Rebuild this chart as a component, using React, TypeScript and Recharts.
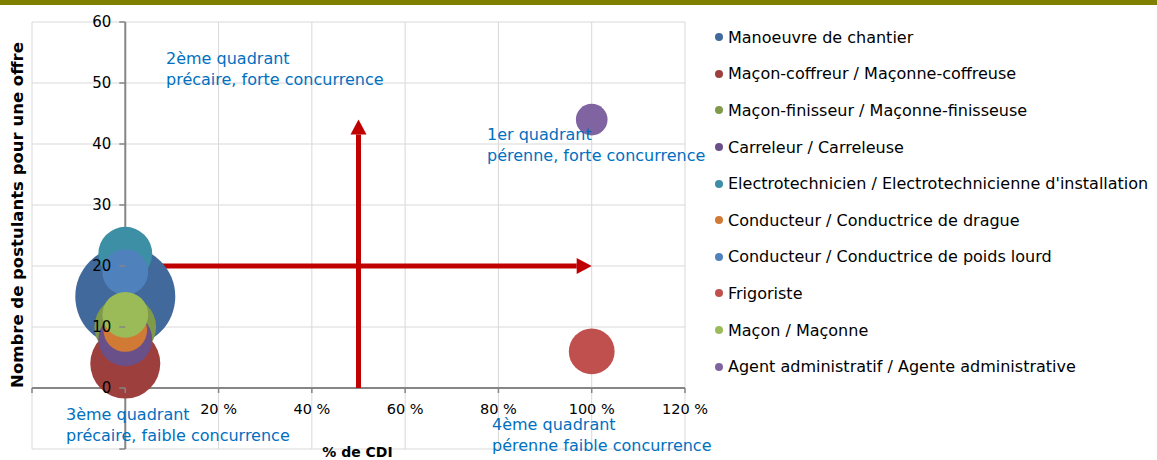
import {
  ScatterChart,
  Scatter,
  XAxis,
  YAxis,
  ZAxis,
  CartesianGrid,
  ReferenceLine,
  Legend,
} from "recharts";

const jobs = [
  "Manoeuvre de chantier",
  "Maçon-coffreur / Maçonne-coffreuse",
  "Maçon-finisseur / Maçonne-finisseuse",
  "Carreleur / Carreleuse",
  "Electrotechnicien / Electrotechnicienne d'installation",
  "Conducteur / Conductrice de drague",
  "Conducteur / Conductrice de poids lourd",
  "Frigoriste",
  "Maçon / Maçonne",
  "Agent administratif / Agente administrative",
];
const cdiPct = [0, 0, 0, 0, 0, 0, 0, 100, 0, 100];
const applicants = [15, 4, 10, 8, 22, 9.5, 19, 6, 12, 44];
const offers = [100, 49, 38, 29, 29, 19, 21, 21, 21, 10];
const colors = [
  "#41699b",
  "#9c3f3d",
  "#7f9a48",
  "#6a5089",
  "#3d8fa5",
  "#d07a36",
  "#4f81bd",
  "#c0504d",
  "#9bbb59",
  "#8064a2",
];

const xTicks = [-20, 0, 20, 40, 60, 80, 100, 120];
const yTicks = [-10, 0, 10, 20, 30, 40, 50, 60];

const quadrants = [
  { lines: ["2ème quadrant", "précaire, forte concurrence"], left: 166, top: 48 },
  { lines: ["1er quadrant", "pérenne, forte concurrence"], left: 487, top: 124 },
  { lines: ["3ème quadrant", "précaire, faible concurrence"], left: 66, top: 404 },
  { lines: ["4ème quadrant", "pérenne faible concurrence"], left: 492, top: 414 },
];

const W = 1157;
const H = 460;
// axes take 1px each (a 0px axis is not drawn)
const M = { top: 22, right: 472, bottom: 10, left: 31 };
const PW = W - M.left - 1 - M.right;
const PH = H - M.top - M.bottom - 1;
const X_MIN = -20, X_MAX = 120, Y_MIN = -10, Y_MAX = 60;
// distance from plot edge to the zero lines (axes cross at 0)
const X0_OFF = (PW * (0 - X_MIN)) / (X_MAX - X_MIN);
const Y0_OFF = (PH * (0 - Y_MIN)) / (Y_MAX - Y_MIN);

const FONT = "'DejaVu Sans', sans-serif";
const AXIS = "#868686";
const RED = "#c00000";

const XTick = ({ x, y, payload }: any) => {
  const ay = y - Y0_OFF;
  const v = payload.value;
  return (
    <g>
      <line x1={x} y1={ay} x2={x} y2={ay + 5} stroke={AXIS} strokeWidth={1.5} />
      {v > 0 && (
        <text x={x} y={ay + 26} textAnchor="middle" fontSize={14.5} fontFamily={FONT} fill="#000">
          {`${v} %`}
        </text>
      )}
    </g>
  );
};

// tick marks (drawn under the bubbles)
const YTickMark = ({ x, y }: any) => {
  const ax = x + X0_OFF;
  return <line x1={ax - 6} y1={y} x2={ax} y2={y} stroke={AXIS} strokeWidth={1.5} />;
};

// tick labels (drawn on top of the bubbles, as in Excel)
const YTickLabel = ({ x, y, payload }: any) => {
  const ax = x + X0_OFF;
  const v = payload.value;
  if (v < 0) return <g />;
  return (
    <text x={ax - 14} y={y + 5} textAnchor="end" fontSize={15} fontFamily={FONT} fill="#000">
      {v}
    </text>
  );
};

const Arrow = (p: any) => {
  const { x1, y1, x2, y2 } = p;
  const dx = x2 - x1;
  const dy = y2 - y1;
  const len = Math.hypot(dx, dy) || 1;
  const ux = dx / len;
  const uy = dy / len;
  const hl = 15;
  const hw = 8;
  const bx = x2 - ux * hl;
  const by = y2 - uy * hl;
  return (
    <g>
      <line x1={x1} y1={y1} x2={bx} y2={by} stroke={RED} strokeWidth={5} />
      <polygon
        points={`${x2},${y2} ${bx - uy * hw},${by + ux * hw} ${bx + uy * hw},${by - ux * hw}`}
        fill={RED}
      />
    </g>
  );
};

const renderLegend = (props: any) => (
  <div style={{ fontFamily: FONT, fontSize: 16, color: "#000" }}>
    {(props.payload || []).map((e: any) => (
      <div key={e.value} style={{ height: 36.6, display: "flex", alignItems: "center", whiteSpace: "nowrap" }}>
        <span
          style={{
            display: "inline-block",
            width: 8,
            height: 8,
            borderRadius: 4,
            background: e.color,
            marginRight: 5,
          }}
        />
        {e.value}
      </div>
    ))}
  </div>
);

const yAxisProps = {
  type: "number" as const,
  dataKey: "y",
  domain: [Y_MIN, Y_MAX],
  ticks: yTicks,
  width: 1,
  axisLine: false,
  tickLine: false,
  tickSize: 0,
  tickMargin: 0,
  interval: 0 as const,
  allowDataOverflow: true,
};

export default function App() {
  const series = jobs.map((name, i) => ({
    name,
    color: colors[i],
    data: [{ x: cdiPct[i], y: applicants[i], z: offers[i] }],
  }));

  return (
    <div style={{ position: "absolute", left: 0, top: 0, width: W, height: H, background: "#fff", overflow: "hidden" }}>
      <ScatterChart width={W} height={H} margin={M}>
        <CartesianGrid stroke="#d9d9d9" strokeWidth={1} />
        <XAxis
          type="number"
          dataKey="x"
          domain={[X_MIN, X_MAX]}
          ticks={xTicks}
          height={1}
          axisLine={false}
          tickLine={false}
          tickSize={0}
          tickMargin={0}
          tick={<XTick />}
          interval={0}
          allowDataOverflow
        />
        <YAxis {...yAxisProps} tick={<YTickMark />} />
        <ZAxis type="number" dataKey="z" domain={[0, 100]} range={[0, Math.PI * 50 * 50]} />
        <ReferenceLine x={0} stroke={AXIS} strokeWidth={2} />
        <ReferenceLine y={0} stroke={AXIS} strokeWidth={2} />
        <ReferenceLine segment={[{ x: 0, y: 20 }, { x: 100, y: 20 }]} shape={Arrow} />
        <ReferenceLine segment={[{ x: 50, y: 0 }, { x: 50, y: 44 }]} shape={Arrow} />
        {series.map((s) => (
          <Scatter key={s.name} name={s.name} data={s.data} fill={s.color} isAnimationActive={false} />
        ))}
        <Legend
          layout="vertical"
          align="center"
          verticalAlign="middle"
          itemSorter={(item: any) => jobs.indexOf(item.value)}
          content={renderLegend}
          wrapperStyle={{ left: 715, top: 19, width: 442 }}
        />
      </ScatterChart>
      {/* same frame again, only for the y tick labels, so they sit above the bubbles */}
      <div style={{ position: "absolute", left: 0, top: 0, pointerEvents: "none" }}>
        <ScatterChart width={W} height={H} margin={M}>
          <XAxis
            type="number"
            dataKey="x"
            domain={[X_MIN, X_MAX]}
            height={1}
            axisLine={false}
            tickLine={false}
            tick={false}
            allowDataOverflow
          />
          <YAxis {...yAxisProps} tick={<YTickLabel />} />
          <Scatter data={series[0].data} fill="none" legendType="none" isAnimationActive={false} />
        </ScatterChart>
      </div>
      <div style={{ position: "absolute", left: 0, top: 0, width: W, height: 5, background: "#7f7f00" }} />
      {quadrants.map((q) => (
        <div
          key={q.lines[0]}
          style={{
            position: "absolute",
            left: q.left,
            top: q.top,
            fontFamily: FONT,
            fontSize: 16,
            lineHeight: "21px",
            color: "#0070c0",
            whiteSpace: "nowrap",
          }}
        >
          {q.lines.map((l) => (
            <div key={l}>{l}</div>
          ))}
        </div>
      ))}
      <div
        style={{
          position: "absolute",
          left: M.left + PW / 2 - 100,
          top: 445,
          width: 200,
          textAlign: "center",
          fontFamily: FONT,
          fontSize: 14,
          fontWeight: "bold",
          lineHeight: "15px",
        }}
      >
        % de CDI
      </div>
      <div
        style={{
          position: "absolute",
          left: 18 - 200,
          top: 215 - 9,
          width: 400,
          textAlign: "center",
          transform: "rotate(-90deg)",
          fontFamily: FONT,
          fontSize: 16.5,
          fontWeight: "bold",
          lineHeight: "18px",
          whiteSpace: "nowrap",
        }}
      >
        Nombre de postulants pour une offre
      </div>
    </div>
  );
}
